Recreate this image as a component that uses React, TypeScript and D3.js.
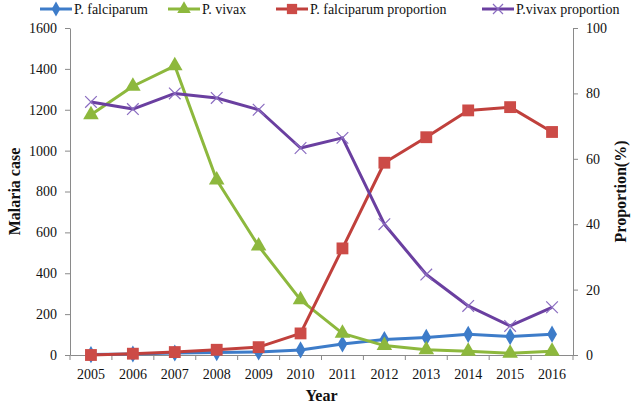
import React, { useEffect, useRef } from 'react';
import * as d3 from 'd3';

const years = ['2005', '2006', '2007', '2008', '2009', '2010', '2011', '2012', '2013', '2014', '2015', '2016'];
const falciparum = [2, 5, 10, 12, 15, 25, 54, 76, 86, 101, 90, 102];
const vivax = [1175, 1315, 1415, 856, 533, 270, 106, 46, 26, 18, 9, 18];
const falciparumProp = [0, 0.4, 0.9, 1.6, 2.4, 6.6, 32.6, 58.8, 66.6, 74.8, 75.8, 68.2];
const vivaxProp = [77.4, 75.2, 80, 78.6, 75, 63.3, 66.4, 40, 24.6, 15, 8.9, 14.6];
const leftTicks = [0, 200, 400, 600, 800, 1000, 1200, 1400, 1600];
const rightTicks = [0, 20, 40, 60, 80, 100];

const W = 638, H = 407;
const serif = 'Liberation Serif, Times New Roman, serif';

export default function App() {
  const ref = useRef<SVGSVGElement>(null);

  useEffect(() => {
    if (!ref.current) return;
    const svg = d3.select(ref.current);
    svg.selectAll('*').remove();

    const left = 70, right = 573, top = 28, bottom = 355;
    const axisColor = '#8a8a8a';

    const x = d3.scaleBand().domain(years).range([left, right]);
    const yL = d3.scaleLinear().domain([0, 1600]).range([bottom, top]);
    const yR = d3.scaleLinear().domain([0, 100]).range([bottom, top]);
    const cx = (i: number) => (x(years[i]) as number) + x.bandwidth() / 2;

    // axes
    const gL = svg.append('g').attr('transform', `translate(${left},0)`)
      .call(d3.axisLeft(yL).tickValues(leftTicks).tickFormat(d3.format('d')).tickSize(5).tickSizeOuter(0).tickPadding(8));
    const gR = svg.append('g').attr('transform', `translate(${right},0)`)
      .call(d3.axisRight(yR).tickValues(rightTicks).tickFormat(d3.format('d')).tickSize(5).tickSizeOuter(0).tickPadding(8));
    const gX = svg.append('g').attr('transform', `translate(0,${bottom})`)
      .call(d3.axisBottom(x).tickSize(0).tickPadding(14));
    // category boundary ticks
    gX.selectAll('.bt').data(d3.range(years.length + 1)).enter().append('line')
      .attr('x1', i => left + i * x.bandwidth()).attr('x2', i => left + i * x.bandwidth())
      .attr('y1', 0).attr('y2', 5).attr('stroke', axisColor);

    [gL, gR, gX].forEach(g => {
      g.attr('font-family', serif).attr('font-size', 14);
      g.selectAll('path').attr('stroke', axisColor).attr('stroke-width', 1);
      g.selectAll('line').attr('stroke', axisColor);
      g.selectAll('text').style('font-family', serif).attr('font-size', 14).attr('fill', '#111');
    });

    const series = [
      { name: 'P. falciparum', data: falciparum, y: yL, color: '#3d7cc9', sym: d3.symbolDiamond, size: 85, stroke: false },
      { name: 'P. vivax', data: vivax, y: yL, color: '#8db83d', sym: d3.symbolTriangle, size: 105, stroke: false },
      { name: 'P. falciparum proportion', data: falciparumProp, y: yR, color: '#c0403c', sym: d3.symbolSquare, size: 140, stroke: false },
      { name: 'P.vivax proportion', data: vivaxProp, y: yR, color: '#6a3fa0', sym: d3.symbolTimes, size: 90, stroke: true },
    ];

    const markerFill = ['#3d7cc9', '#8db83d', '#cc4b47', 'none'];

    series.forEach((s, si) => {
      const line = d3.line<number>().x((_, i) => cx(i)).y(d => s.y(d));
      svg.append('path').datum(s.data).attr('d', line)
        .attr('fill', 'none').attr('stroke', s.color).attr('stroke-width', 3)
        .attr('stroke-linejoin', 'round');
      const sym = d3.symbol().type(s.sym).size(s.size);
      svg.append('g').selectAll('path').data(s.data).enter().append('path')
        .attr('d', sym)
        .attr('transform', (d, i) => `translate(${cx(i)},${s.y(d)})`)
        .attr('fill', markerFill[si])
        .attr('stroke', s.stroke ? '#8a6cc0' : 'none')
        .attr('stroke-width', 1.2);
    });

    // legend
    const legendX = [40, 168, 276, 482];
    const lg = svg.append('g');
    series.forEach((s, si) => {
      const g = lg.append('g').attr('transform', `translate(${legendX[si]},9)`);
      g.append('line').attr('x1', 0).attr('x2', 32).attr('y1', 0).attr('y2', 0)
        .attr('stroke', s.color).attr('stroke-width', 3);
      g.append('path').attr('d', d3.symbol().type(s.sym).size(s.size * 0.75)())
        .attr('transform', 'translate(16,0)')
        .attr('fill', markerFill[si])
        .attr('stroke', s.stroke ? '#8a6cc0' : 'none').attr('stroke-width', 1.2);
      g.append('text').attr('x', 34).attr('y', 5).text(s.name)
        .style('font-family', serif).attr('font-size', 14).attr('fill', '#111');
    });

    // axis titles
    const title = (t: string, tr: string) =>
      svg.append('text').attr('transform', tr)
        .attr('text-anchor', 'middle').style('font-family', serif).attr('font-weight', 'bold')
        .attr('font-size', 16).attr('fill', '#111').text(t);
    title('Malaria case', `translate(20,${(top + bottom) / 2}) rotate(-90)`);
    title('Proportion(%)', `translate(626,${(top + bottom) / 2}) rotate(-90)`);
    title('Year', `translate(${(left + right) / 2},401)`);
  }, []);

  return (
    <svg ref={ref} width={W} height={H}
      style={{ position: 'absolute', left: 0, top: 0, background: '#fff' }} />
  );
}
